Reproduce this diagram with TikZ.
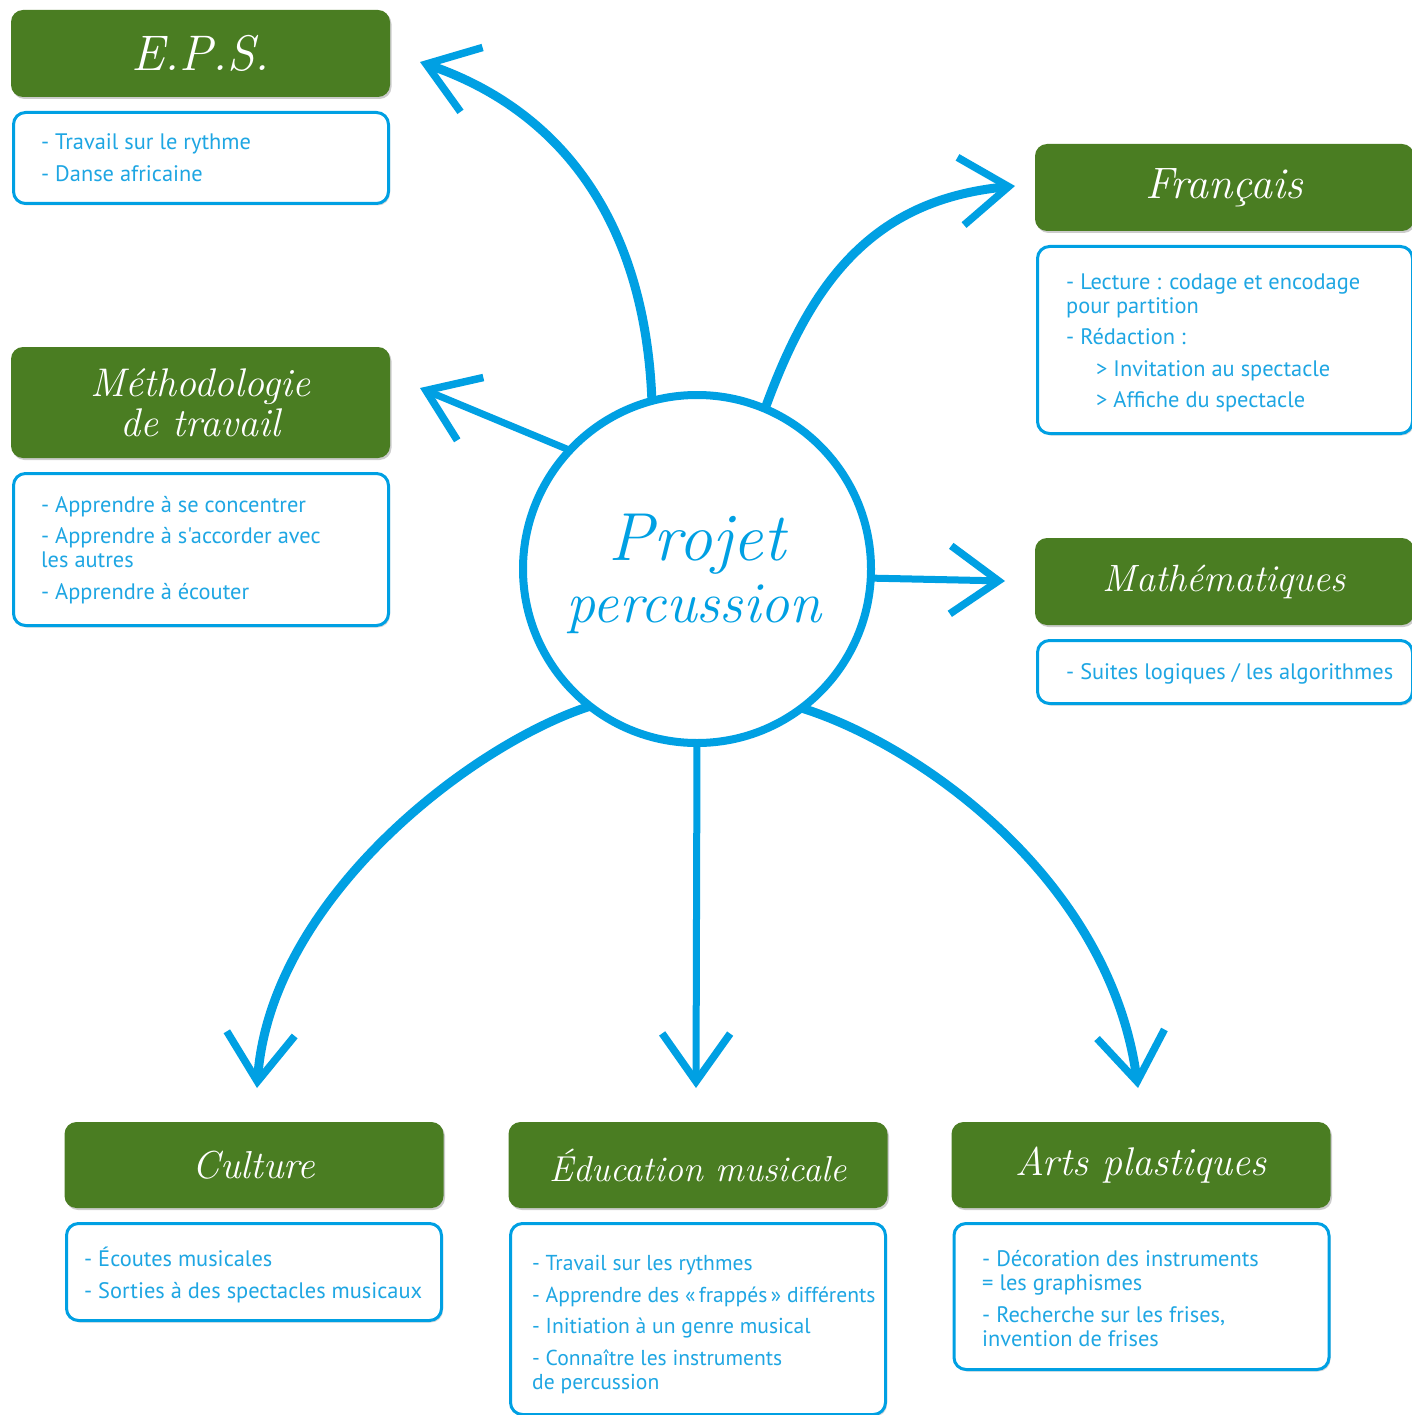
\documentclass[tikz,border=0pt]{standalone}
\usepackage{fontspec}
\newfontfamily\bodyfont{PT Sans}
\usetikzlibrary{arrows.meta,shadows}
\definecolor{vert}{RGB}{74,125,34}
\definecolor{bleu}{RGB}{0,160,227}
\definecolor{txtbleu}{RGB}{30,166,227}
\begin{document}
\begin{tikzpicture}[x=1pt,y=-1pt,
  hdr/.style={fill=vert, rounded corners=12pt, minimum width=379pt, inner sep=0pt,
    text=white, font=\fontsize{40}{40}\selectfont\itshape, align=center,
    drop shadow={shadow xshift=1.5pt, shadow yshift=-2pt, opacity=0.2, fill=black}},
  bodybox/.style={draw=bleu, line width=3pt, fill=white, rounded corners=12pt,
    minimum width=375pt, inner sep=0pt,
    drop shadow={shadow xshift=1.5pt, shadow yshift=-2pt, opacity=0.15, fill=black}},
  items/.style={anchor=base west, align=left, text=txtbleu, inner sep=0pt,
    font=\bodyfont\fontsize{22.4}{24}\selectfont},
  conn/.style={draw=bleu, line width=9pt, -{Straight Barb[length=48pt,width=68pt,line width=7.5pt]}},
  sconn/.style={draw=bleu, line width=7pt, -{Straight Barb[length=48pt,width=68pt,line width=7.5pt]}},
]
\clip (0,0) rectangle (1412,1415);
\fill[white] (0,0) rectangle (1412,1415);

% ---------- headers ----------
\node[hdr, minimum height=87pt, font=\fontsize{50}{50}\selectfont\itshape] (hEPS) at (200.5,53.5) {E.P.S.};
\node[hdr, minimum height=111pt, font=\fontsize{40}{40}\selectfont\itshape] (hMeth) at (200.5,402.5) {Méthodologie\\de travail};
\node[hdr, minimum height=87pt, font=\fontsize{44}{44}\selectfont\itshape] (hFr) at (1224.5,187.5) {Français};
\node[hdr, minimum height=87pt, font=\fontsize{38}{38}\selectfont\itshape] (hMath) at (1224.5,581.5) {Mathématiques};
\node[hdr, minimum height=86pt, font=\fontsize{39}{39}\selectfont\itshape] (hCult) at (254,1165) {Culture};
\node[hdr, minimum height=86pt, font=\fontsize{36}{36}\selectfont\itshape] (hEdu) at (698,1165) {Éducation musicale};
\node[hdr, minimum height=86pt, font=\fontsize{40}{40}\selectfont\itshape] (hArts) at (1141,1165) {Arts plastiques};

% ---------- body boxes ----------
\node[bodybox, minimum height=91pt] (bEPS) at (201,158) {};
\node[bodybox, minimum height=152pt] (bMeth) at (201,549.5) {};
\node[bodybox, minimum height=187pt] (bFr) at (1225,340) {};
\node[bodybox, minimum height=63pt] (bMath) at (1225,672) {};
\node[bodybox, minimum height=97pt] (bCult) at (254,1272) {};
\node[bodybox, minimum height=191pt] (bEdu) at (698,1319) {};
\node[bodybox, minimum height=146pt] (bArts) at (1141.5,1296.5) {};

% ---------- items (anchored on the baseline of their last line) ----------
\node[items] (iEPS) at (41,182) {- Travail sur le rythme\\[8pt]- Danse africaine};
\node[items] (iMeth) at (41,599) {- Apprendre à se concentrer\\[7pt]- Apprendre à s'accorder avec\\les autres\\[8pt]- Apprendre à écouter};
\node[items] (iFr) at (1066,407) {- Lecture : codage et encodage\\pour partition\\[7pt]- Rédaction :\\[8pt]\hspace*{30pt}> Invitation au spectacle\\[7pt]\hspace*{30pt}> Affiche du spectacle};
\node[items] (iMath) at (1066,679) {- Suites logiques / les algorithmes};
\node[items] (iCult) at (84,1298) {- Écoutes musicales\\[8pt]- Sorties à des spectacles musicaux};
\node[items, font=\bodyfont\fontsize{21.6}{24}\selectfont] (iEdu) at (532,1389) {- Travail sur les rythmes\\[8pt]- Apprendre des «\,frappés\,» différents\\[7pt]- Initiation à un genre musical\\[8pt]- Connaître les instruments\\de percussion};
\node[items] (iArts) at (982,1346) {- Décoration des instruments\\= les graphismes\\[8pt]- Recherche sur les frises,\\invention de frises};

% ---------- centre ----------
\node[circle, minimum size=348pt, inner sep=0pt] (c) at (697,569) {};
\coordinate (tEPS) at (420,62);
\coordinate (tMeth) at (420,388);
\coordinate (tFr) at (1015,186);
\coordinate (tMath) at (1005,581);
\coordinate (tCult) at (257,1088);
\coordinate (tEdu) at (696,1088);
\coordinate (tArts) at (1138,1088);

\draw[conn] (c.105.4) .. controls (645,220) and (560,110) .. (tEPS);
\draw[sconn] (c.137) -- (tMeth);
\draw[conn] (c.67.4) .. controls (810,285) and (870,200) .. (tFr);
\draw[sconn] (c.-3.6) -- (tMath);
\draw[conn] (c.232.5) .. controls (470,745) and (270,900) .. (tCult);
\draw[sconn] (c.270) -- (tEdu);
\draw[conn] (c.307.5) .. controls (920,745) and (1110,880) .. (tArts);

\draw[draw=bleu, fill=white, line width=8pt] (c.center) circle (174pt);
\node[text=bleu, anchor=base, inner sep=0pt, font=\fontsize{68}{68}\selectfont\itshape] (ctext1) at (697,560) {Projet};
\node[text=bleu, anchor=base, inner sep=0pt, font=\fontsize{58}{58}\selectfont\itshape] (ctext2) at (694,622) {percussion};
\end{tikzpicture}
\end{document}
